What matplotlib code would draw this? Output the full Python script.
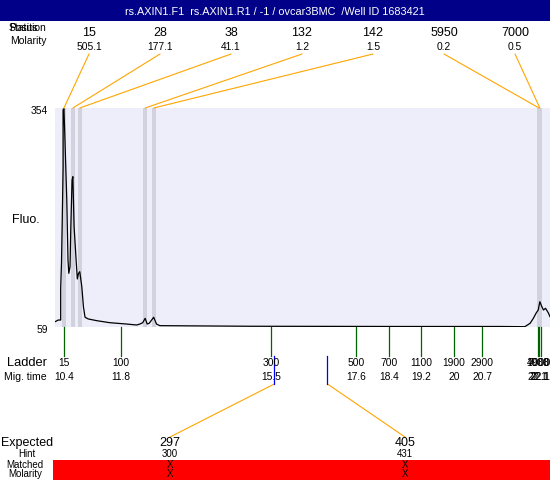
import matplotlib
matplotlib.use("Agg")
import matplotlib.pyplot as plt
from matplotlib.lines import Line2D
from matplotlib.patches import Rectangle, ConnectionPatch
from matplotlib.transforms import blended_transform_factory

plt.rcParams["font.family"] = ["Liberation Sans", "DejaVu Sans"]

# ── Data ─────────────────────────────────────────────────────
TITLE = "rs.AXIN1.F1  rs.AXIN1.R1 / -1 / ovcar3BMC  /Well ID 1683421"

# electropherogram trace: migration time (s) vs fluorescence
TRACE_TIME = [10.18, 10.26, 10.32, 10.32, 10.34, 10.36, 10.38, 10.38, 10.40,
              10.42, 10.47, 10.50, 10.52, 10.55, 10.57, 10.60, 10.62, 10.65,
              10.70, 10.73, 10.76, 10.79, 10.84, 10.88, 10.92, 11.00, 11.21,
              11.53, 11.94, 12.19, 12.27, 12.34, 12.40, 12.45, 12.50, 12.61,
              12.68, 12.76, 14.98, 18.68, 21.14, 21.75, 21.88, 21.96, 22.03,
              22.08, 22.12, 22.17, 22.21, 22.26, 22.33, 22.37]
TRACE_FLUO = [66.1, 68.4, 68.4, 111.5, 145.2, 207.6, 274.9, 351.3, 353.0,
              320.3, 230.1, 149.2, 131.3, 140.2, 194.1, 257.0, 261.5, 194.1,
              149.2, 123.7, 131.3, 133.5, 113.3, 86.3, 72.1, 69.8, 67.5,
              64.8, 63.0, 61.7, 63.0, 64.8, 70.7, 63.0, 64.0, 72.1,
              63.0, 60.8, 60.0, 59.7, 59.7, 59.4, 64.0, 70.7, 77.9,
              81.9, 93.1, 86.3, 81.9, 84.2, 77.9, 72.9]
FLUO_RANGE = [59, 354]
TIME_RANGE = [10.18, 22.37]

PEAK_SIZE = [15, 28, 38, 132, 142, 5950, 7000]
PEAK_MOLARITY = [505.1, 177.1, 41.1, 1.2, 1.5, 0.2, 0.5]
PEAK_TIME = [10.40, 10.62, 10.79, 12.40, 12.61, 22.10, 22.12]

LADDER_SIZE = [15, 100, 300, 500, 700, 1100, 1900, 2900, 4900, 7000, 10380]
LADDER_TIME = [10.4, 11.8, 15.5, 17.6, 18.4, 19.2, 20.0, 20.7, 22.07, 22.1, 22.14]

EXPECTED = [297, 405]
HINT = [300, 431]
EXPECTED_TIME = [15.58, 16.89]

# ── Style ────────────────────────────────────────────────────
W, H = 550, 480
NAVY = "#000088"
BG = "#EEEEFA"
BAND = "#D2D2DE"
ORANGE = "#FFA500"
GREEN = "#006400"
SMALL = 7.4


def fx(px):
    return px / W


def fy(py):
    return 1 - py / H


fig = plt.figure(figsize=(W / 100, H / 100), dpi=100)

# header bar
fig.add_artist(Rectangle((0, fy(21)), 1, 21 / H, transform=fig.transFigure,
                         color=NAVY, lw=0))
fig.text(0.5, fy(12), TITLE, color="white", ha="center", va="center",
         fontsize=7.8)

# main electropherogram
ax = fig.add_axes([fx(55), fy(327), fx(550) - fx(55), (327 - 108) / H])
ax.set_facecolor(BG)
for s in ax.spines.values():
    s.set_visible(False)
ax.set_xticks([])
ax.set_yticks([])

for t in PEAK_TIME:
    ax.axvspan(t - 0.045, t + 0.045, color=BAND, lw=0, zorder=1)
ax.plot(TRACE_TIME, TRACE_FLUO, color="black", lw=0.9, zorder=3)
ax.set_xlim(TIME_RANGE)
ax.set_ylim(FLUO_RANGE)

fig.text(fx(48), fy(111), f"{FLUO_RANGE[1]}", ha="right", va="center", fontsize=SMALL)
fig.text(fx(48), fy(330), f"{FLUO_RANGE[0]}", ha="right", va="center", fontsize=SMALL)
fig.text(fx(12), fy(220), "Fluo.", ha="left", va="center", fontsize=9)

# peak table on top
fig.text(fx(9), fy(28), "Position", ha="left", va="center", fontsize=7.5)
fig.text(fx(9), fy(28), "Status", ha="left", va="center", fontsize=7.5)
fig.text(fx(10), fy(41), "Molarity", ha="left", va="center", fontsize=7.5)
for i, (size, mol, t) in enumerate(zip(PEAK_SIZE, PEAK_MOLARITY, PEAK_TIME)):
    lx = 89 + 71 * i
    fig.text(fx(lx), fy(33.5), str(size), ha="center", va="center", fontsize=9)
    fig.text(fx(lx), fy(46.5), f"{mol:.1f}", ha="center", va="center", fontsize=SMALL)
    fig.add_artist(ConnectionPatch(
        xyA=(t, FLUO_RANGE[1]), coordsA=ax.transData,
        xyB=(fx(lx), fy(54)), coordsB=fig.transFigure,
        color=ORANGE, lw=0.8))

# ladder
blend = blended_transform_factory(ax.transData, fig.transFigure)
fig.text(fx(47), fy(363), "Ladder", ha="right", va="center", fontsize=9.3)
fig.text(fx(47), fy(377), "Mig. time", ha="right", va="center", fontsize=7.6)
for size, t in zip(LADDER_SIZE, LADDER_TIME):
    fig.add_artist(Line2D([t, t], [fy(327), fy(356)], transform=blend,
                          color=GREEN, lw=0.9))
    fig.text(t, fy(363), str(size), transform=blend, ha="center", va="center",
             fontsize=SMALL)
    fig.text(t, fy(377), f"{round(t, 1):g}", transform=blend, ha="center",
             va="center", fontsize=SMALL)

# expected products
fig.add_artist(Rectangle((fx(53), 0), 1 - fx(53), 20 / H,
                         transform=fig.transFigure, color="#FF0000", lw=0))
fig.text(fx(1), fy(443), "Expected", ha="left", va="center", fontsize=9)
fig.text(fx(27), fy(454), "Hint", ha="center", va="center", fontsize=7)
fig.text(fx(25), fy(465), "Matched", ha="center", va="center", fontsize=7)
fig.text(fx(25.5), fy(474), "Molarity", ha="center", va="center", fontsize=7)
for exp, hint, t, lx in zip(EXPECTED, HINT, EXPECTED_TIME, [170, 405]):
    fig.add_artist(Line2D([t, t], [fy(356), fy(384)], transform=blend,
                          color="#0000FF", lw=0.9))
    fig.add_artist(ConnectionPatch(
        xyA=(t, fy(384)), coordsA=blend,
        xyB=(fx(lx), fy(437)), coordsB=fig.transFigure,
        color=ORANGE, lw=0.8))
    fig.text(fx(lx), fy(443), str(exp), ha="center", va="center", fontsize=9)
    fig.text(fx(lx), fy(454), str(hint), ha="center", va="center", fontsize=7)
    fig.text(fx(lx), fy(465), "X", ha="center", va="center", fontsize=7)
    fig.text(fx(lx), fy(474), "X", ha="center", va="center", fontsize=7)

fig.savefig("out.png", dpi=100, facecolor="white")
